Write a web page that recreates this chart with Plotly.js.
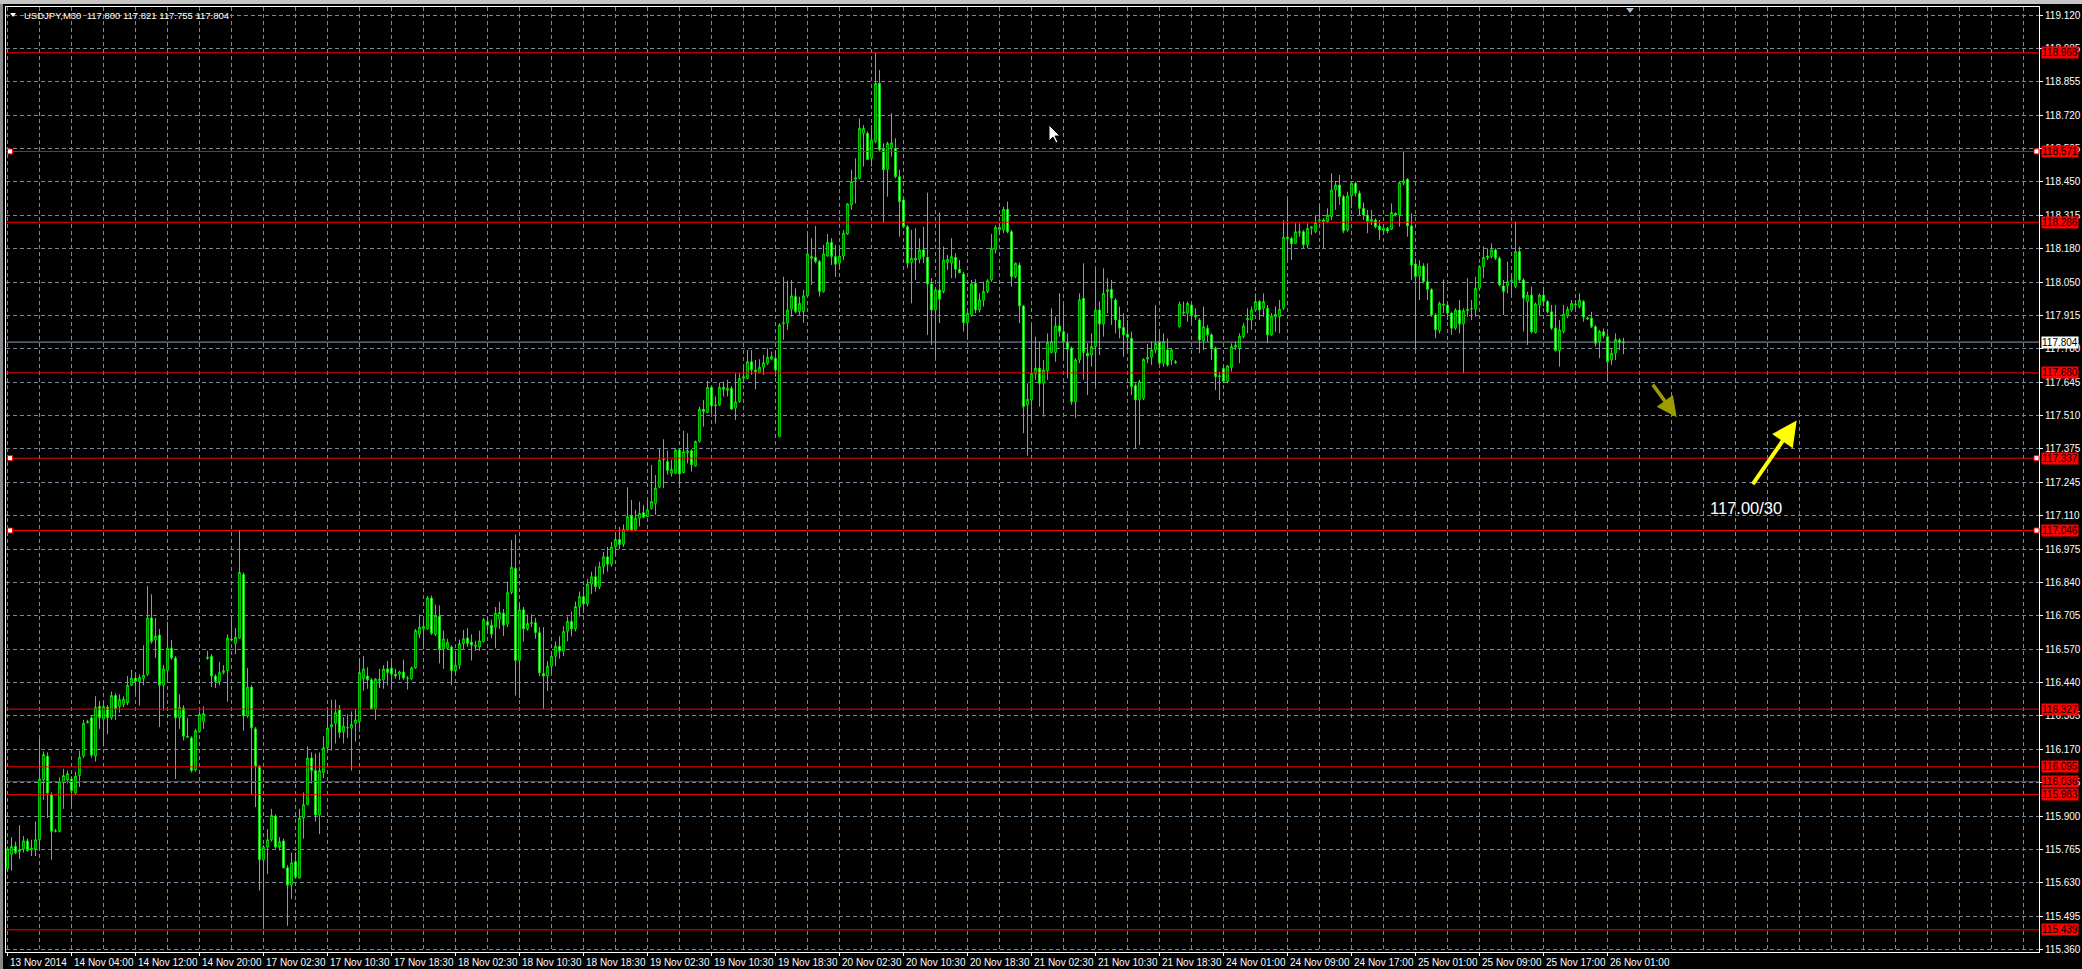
<!DOCTYPE html>
<html>
<head>
<meta charset="utf-8">
<script src="https://cdn.plot.ly/plotly-3.0.1.min.js"></script>
<style>
html,body{margin:0;padding:0;background:#000;overflow:hidden;}
#chart{width:2082px;height:969px;}
</style>
</head>
<body>
<div id="chart"></div>
<script>
// ---------------- DATA ----------------
const symbolName = 'USDJPY,M30';

const xTickLabels = ['13 Nov 2014','14 Nov 04:00','14 Nov 12:00','14 Nov 20:00','17 Nov 02:30','17 Nov 10:30','17 Nov 18:30','18 Nov 02:30','18 Nov 10:30','18 Nov 18:30','19 Nov 02:30','19 Nov 10:30','19 Nov 18:30','20 Nov 02:30','20 Nov 10:30','20 Nov 18:30','21 Nov 02:30','21 Nov 10:30','21 Nov 18:30','24 Nov 01:00','24 Nov 09:00','24 Nov 17:00','25 Nov 01:00','25 Nov 09:00','25 Nov 17:00','26 Nov 01:00'];

const yTickLabels = ['119.120','118.985','118.855','118.720','118.585','118.450','118.315','118.180','118.050','117.915','117.780','117.645','117.510','117.375','117.245','117.110','116.975','116.840','116.705','116.570','116.440','116.305','116.170','116.035','115.900','115.765','115.630','115.495','115.360'];

const opens = [
115.685,115.743,115.775,115.753,115.765,115.797,115.761,115.765,115.802,116.043,
116.138,115.984,115.835,115.835,116.036,116.043,116.046,115.989,116.060,116.138,
116.272,116.292,116.138,116.338,116.287,116.335,116.292,116.382,116.338,116.346,
116.353,116.423,116.452,116.438,116.450,116.467,116.694,116.606,116.625,116.423,
116.482,116.572,116.533,116.292,116.332,116.214,116.211,116.082,116.236,116.277,
116.531,116.540,116.460,116.438,116.474,116.482,116.609,116.591,116.613,116.869,
116.299,116.416,116.248,116.098,115.721,115.772,115.802,115.897,115.772,115.797,
115.689,115.619,115.714,115.648,115.889,115.943,116.131,116.080,115.901,116.072,
116.172,116.255,116.270,116.324,116.236,116.251,116.251,116.270,116.277,116.450,
116.460,116.445,116.328,116.441,116.445,116.489,116.492,116.467,116.467,116.477,
116.450,116.450,116.493,116.628,116.650,116.650,116.774,116.628,116.701,116.569,
116.572,116.577,116.482,116.504,116.591,116.613,116.596,116.580,116.577,116.599,
116.679,116.665,116.657,116.689,116.713,116.669,116.796,116.894,116.523,116.727,
116.650,116.672,116.675,116.635,116.470,116.460,116.500,116.540,116.580,116.560,
116.640,116.680,116.650,116.740,116.780,116.750,116.830,116.860,116.820,116.900,
116.940,116.910,116.980,117.010,116.990,117.048,117.105,117.048,117.095,117.118,
117.102,117.135,117.155,117.220,117.330,117.323,117.276,117.276,117.370,117.279,
117.359,117.367,117.306,117.404,117.534,117.520,117.622,117.547,117.551,117.622,
117.609,117.618,117.538,117.564,117.658,117.658,117.725,117.692,117.681,117.703,
117.719,117.735,117.739,117.424,117.877,117.880,117.936,117.987,117.927,117.927,
117.990,118.148,118.145,118.128,118.007,118.150,118.205,118.148,118.121,118.150,
118.239,118.356,118.459,118.463,118.644,118.644,118.543,118.610,118.845,118.580,
118.499,118.584,118.584,118.470,118.376,118.268,118.124,118.141,118.137,118.175,
118.145,118.038,117.933,118.014,118.007,118.124,118.121,118.145,118.097,118.078,
117.882,117.913,118.040,117.933,117.971,118.007,118.054,118.175,118.255,118.255,
118.338,118.248,118.067,118.114,117.949,117.551,117.571,117.676,117.699,117.638,
117.689,117.762,117.762,117.869,117.846,117.802,117.779,117.564,117.732,117.980,
117.759,117.752,117.786,117.933,117.877,118.007,118.016,117.973,117.893,117.863,
117.835,117.819,117.629,117.571,117.578,117.735,117.743,117.772,117.806,117.719,
117.772,117.732,117.725,117.866,117.920,117.920,117.953,117.913,117.893,117.810,
117.860,117.833,117.779,117.665,117.698,117.645,117.702,117.783,117.779,117.826,
117.893,117.893,117.933,117.967,117.940,117.940,117.833,117.906,117.906,117.940,
118.226,118.221,118.201,118.244,118.248,118.195,118.262,118.248,118.291,118.295,
118.289,118.309,118.416,118.436,118.389,118.255,118.392,118.443,118.403,118.342,
118.315,118.289,118.295,118.271,118.252,118.262,118.258,118.322,118.315,118.443,
118.459,118.271,118.118,118.070,118.110,118.047,118.016,117.913,117.850,117.957,
117.953,117.920,117.860,117.933,117.877,117.930,117.936,117.936,118.020,118.107,
118.144,118.148,118.175,118.141,118.030,118.030,118.047,118.027,118.168,118.054,
117.967,117.993,117.842,117.953,117.993,117.967,117.926,117.860,117.770,117.846,
117.909,117.933,117.953,117.947,117.967,117.902,117.900,117.866,117.806,117.846,
117.826,117.732,117.759,117.812,117.800];

const highs = [
115.775,115.812,115.794,115.860,115.816,115.806,115.802,115.875,116.211,116.157,
116.153,115.992,115.845,116.053,116.087,116.080,116.058,116.075,116.160,116.284,
116.284,116.299,116.379,116.360,116.357,116.343,116.398,116.391,116.387,116.379,
116.460,116.486,116.470,116.467,116.584,116.822,116.789,116.694,116.650,116.504,
116.679,116.606,116.540,116.387,116.343,116.292,116.218,116.248,116.318,116.338,
116.562,116.548,116.467,116.518,116.504,116.628,116.694,116.653,117.049,116.877,
116.493,116.423,116.255,116.101,115.780,115.845,115.926,115.904,115.812,115.806,
115.699,115.750,115.750,115.926,115.992,116.177,116.153,116.148,116.153,116.218,
116.335,116.365,116.365,116.343,116.295,116.306,116.318,116.328,116.533,116.540,
116.496,116.452,116.452,116.489,116.504,116.521,116.518,116.489,116.482,116.526,
116.460,116.499,116.650,116.708,116.687,116.782,116.784,116.748,116.745,116.643,
116.610,116.584,116.562,116.606,116.646,116.653,116.628,116.602,116.643,116.694,
116.701,116.687,116.738,116.760,116.730,116.840,117.008,117.030,116.752,116.738,
116.708,116.708,116.694,116.657,116.657,116.520,116.560,116.600,116.620,116.660,
116.700,116.720,116.760,116.800,116.820,116.850,116.880,116.900,116.920,116.960,
116.980,117.000,117.040,117.060,117.070,117.220,117.169,117.129,117.162,117.149,
117.169,117.310,117.269,117.377,117.413,117.367,117.330,117.377,117.377,117.447,
117.437,117.373,117.408,117.544,117.571,117.649,117.627,117.585,117.641,117.645,
117.652,117.627,117.678,117.678,117.708,117.772,117.772,117.732,117.735,117.752,
117.779,117.766,117.770,117.880,118.067,118.051,118.054,118.020,117.987,118.014,
118.242,118.222,118.271,118.134,118.195,118.239,118.222,118.195,118.188,118.255,
118.362,118.497,118.543,118.704,118.677,118.651,118.677,118.970,118.899,118.604,
118.610,118.725,118.624,118.497,118.383,118.275,118.255,118.262,118.222,118.268,
118.405,118.061,118.020,118.325,118.188,118.155,118.222,118.161,118.134,118.087,
117.926,118.054,118.057,118.000,118.047,118.057,118.239,118.275,118.282,118.349,
118.369,118.255,118.124,118.124,117.953,117.638,117.873,117.826,117.806,117.732,
117.839,117.940,117.907,118.000,117.953,117.839,117.786,117.739,118.000,118.121,
117.799,117.839,118.101,117.967,118.101,118.061,118.054,117.980,117.947,117.920,
117.893,117.846,117.638,117.652,117.739,117.796,117.806,117.953,117.853,117.839,
117.819,117.779,117.732,117.967,117.967,117.967,117.960,117.940,117.900,117.947,
117.873,117.839,117.786,117.685,117.708,117.712,117.799,117.806,117.839,117.880,
117.940,117.947,118.000,117.973,118.000,117.953,117.920,117.947,117.973,118.295,
118.382,118.228,118.282,118.282,118.255,118.282,118.271,118.315,118.356,118.302,
118.342,118.483,118.453,118.476,118.396,118.409,118.449,118.449,118.413,118.365,
118.336,118.336,118.302,118.295,118.271,118.268,118.362,118.325,118.449,118.570,
118.463,118.322,118.141,118.134,118.121,118.121,118.020,117.920,117.967,118.056,
117.960,117.926,117.940,117.973,117.940,118.061,117.973,118.067,118.114,118.188,
118.181,118.201,118.181,118.148,118.054,118.128,118.074,118.289,118.188,118.061,
118.007,118.027,117.963,118.000,118.027,117.973,117.953,117.953,117.893,117.953,
117.947,117.973,117.973,118.000,117.973,117.906,117.926,117.873,117.853,117.859,
117.839,117.779,117.839,117.819,117.821];

const lows = [
115.677,115.677,115.743,115.724,115.750,115.753,115.736,115.736,115.765,115.962,
115.889,115.721,115.831,115.831,115.926,116.028,115.933,115.984,116.014,116.131,
116.270,116.131,116.116,116.248,116.177,116.226,116.284,116.284,116.313,116.335,
116.343,116.420,116.391,116.341,116.423,116.460,116.591,116.533,116.255,116.321,
116.438,116.526,116.046,116.248,116.201,116.211,116.072,116.075,116.233,116.248,
116.526,116.416,116.412,116.423,116.467,116.357,116.599,116.548,116.610,116.240,
116.292,115.984,115.933,115.597,115.443,115.663,115.794,115.765,115.758,115.685,
115.455,115.563,115.645,115.645,115.806,115.941,116.028,115.875,115.824,116.050,
116.160,116.160,116.189,116.211,116.189,116.211,116.080,116.196,116.251,116.401,
116.409,116.328,116.284,116.412,116.409,116.423,116.416,116.450,116.445,116.445,
116.406,116.445,116.489,116.613,116.569,116.646,116.625,116.621,116.511,116.489,
116.569,116.423,116.474,116.489,116.569,116.577,116.523,116.562,116.562,116.596,
116.643,116.613,116.572,116.650,116.621,116.657,116.789,116.382,116.372,116.599,
116.643,116.657,116.610,116.460,116.328,116.400,116.470,116.500,116.530,116.540,
116.600,116.620,116.640,116.700,116.720,116.740,116.790,116.800,116.810,116.870,
116.880,116.900,116.950,116.970,116.980,117.042,117.042,117.042,117.062,117.095,
117.099,117.129,117.109,117.216,117.216,117.270,117.263,117.273,117.216,117.276,
117.316,117.283,117.303,117.400,117.464,117.518,117.518,117.477,117.547,117.585,
117.585,117.531,117.491,117.560,117.638,117.654,117.672,117.614,117.678,117.672,
117.712,117.732,117.665,117.421,117.813,117.853,117.906,117.920,117.913,117.882,
117.987,118.034,118.121,117.987,118.003,118.148,118.114,118.067,118.108,118.134,
118.235,118.336,118.362,118.459,118.510,118.537,118.510,118.604,118.570,118.285,
118.389,118.550,118.463,118.228,118.262,118.101,117.960,118.054,118.121,118.121,
117.833,117.792,117.739,117.880,118.000,118.094,118.061,118.061,118.081,117.846,
117.819,117.906,117.920,117.923,117.947,118.000,118.047,118.161,118.235,118.242,
118.242,118.027,118.061,117.880,117.437,117.346,117.491,117.652,117.544,117.504,
117.652,117.759,117.725,117.826,117.732,117.658,117.551,117.498,117.719,117.652,
117.591,117.705,117.631,117.752,117.826,117.920,117.873,117.839,117.819,117.745,
117.772,117.591,117.377,117.390,117.571,117.719,117.712,117.759,117.712,117.705,
117.705,117.712,117.716,117.863,117.913,117.886,117.880,117.893,117.759,117.772,
117.806,117.732,117.611,117.571,117.638,117.638,117.685,117.772,117.719,117.819,
117.839,117.853,117.926,117.893,117.906,117.799,117.830,117.846,117.839,117.933,
118.134,118.134,118.199,118.228,118.181,118.181,118.235,118.242,118.282,118.181,
118.282,118.295,118.336,118.356,118.242,118.248,118.342,118.389,118.315,118.295,
118.242,118.275,118.262,118.215,118.235,118.242,118.255,118.309,118.268,118.436,
118.228,118.054,117.772,117.973,118.040,117.973,117.906,117.819,117.839,117.920,
117.893,117.833,117.853,117.839,117.678,117.906,117.893,117.906,118.014,118.061,
118.134,118.141,118.134,118.030,117.913,118.000,117.987,118.020,118.047,117.846,
117.792,117.839,117.839,117.913,117.947,117.920,117.853,117.766,117.705,117.839,
117.900,117.926,117.933,117.940,117.886,117.893,117.860,117.786,117.739,117.819,
117.645,117.712,117.732,117.772,117.755];

const closes = [
115.765,115.775,115.750,115.762,115.797,115.758,115.768,115.802,116.046,116.145,
115.989,115.835,115.838,116.036,116.060,116.068,115.999,116.058,116.134,116.270,
116.277,116.142,116.335,116.292,116.338,116.292,116.382,116.328,116.365,116.368,
116.423,116.452,116.438,116.455,116.464,116.694,116.599,116.621,116.423,116.489,
116.572,116.533,116.292,116.335,116.218,116.218,116.080,116.240,116.306,116.309,
116.536,116.460,116.438,116.474,116.482,116.613,116.605,116.616,116.877,116.299,
116.416,116.252,116.098,115.721,115.772,115.802,115.900,115.772,115.794,115.689,
115.619,115.709,115.651,115.889,115.943,116.131,116.080,115.901,116.080,116.172,
116.251,116.265,116.313,116.233,116.259,116.253,116.265,116.284,116.474,116.489,
116.445,116.328,116.448,116.448,116.489,116.474,116.467,116.460,116.477,116.452,
116.452,116.493,116.643,116.657,116.660,116.774,116.632,116.704,116.567,116.610,
116.596,116.482,116.504,116.591,116.610,116.591,116.584,116.584,116.602,116.687,
116.665,116.628,116.713,116.716,116.665,116.796,116.898,116.523,116.727,116.650,
116.672,116.675,116.635,116.474,116.460,116.500,116.540,116.580,116.560,116.640,
116.680,116.650,116.740,116.780,116.750,116.830,116.860,116.820,116.900,116.940,
116.910,116.980,117.010,116.990,117.050,117.102,117.048,117.095,117.115,117.099,
117.129,117.162,117.216,117.330,117.333,117.287,117.292,117.370,117.273,117.363,
117.367,117.310,117.404,117.534,117.524,117.622,117.547,117.551,117.622,117.614,
117.618,117.534,117.564,117.658,117.665,117.725,117.692,117.685,117.703,117.721,
117.743,117.746,117.692,117.873,117.882,117.933,117.990,117.927,117.960,117.990,
118.159,118.141,118.128,118.007,118.159,118.205,118.148,118.117,118.150,118.242,
118.360,118.450,118.466,118.664,118.664,118.539,118.617,118.845,118.577,118.497,
118.604,118.606,118.470,118.369,118.268,118.121,118.141,118.134,118.175,118.148,
118.038,117.933,118.014,117.976,118.134,118.137,118.148,118.097,118.083,117.882,
117.920,118.038,117.933,117.974,118.007,118.051,118.181,118.266,118.266,118.338,
118.248,118.067,118.121,117.949,117.544,117.574,117.678,117.699,117.638,117.692,
117.802,117.806,117.869,117.846,117.806,117.775,117.564,117.732,117.974,117.762,
117.748,117.786,117.933,117.877,118.000,118.014,117.980,117.893,117.860,117.833,
117.823,117.625,117.571,117.645,117.735,117.743,117.772,117.799,117.719,117.806,
117.712,117.772,117.721,117.957,117.924,117.960,117.913,117.906,117.812,117.866,
117.833,117.779,117.665,117.668,117.645,117.708,117.786,117.792,117.828,117.869,
117.900,117.933,117.967,117.933,117.967,117.833,117.909,117.916,117.936,118.226,
118.220,118.199,118.248,118.248,118.195,118.262,118.268,118.285,118.295,118.289,
118.315,118.416,118.436,118.389,118.252,118.392,118.443,118.403,118.342,118.315,
118.289,118.298,118.268,118.255,118.262,118.251,118.325,118.315,118.445,118.453,
118.271,118.114,118.067,118.110,118.047,118.016,117.913,117.853,117.960,117.953,
117.920,117.860,117.933,117.877,117.930,117.936,117.938,118.020,118.107,118.145,
118.150,118.175,118.141,118.034,118.007,118.047,118.051,118.168,118.054,117.980,
117.993,117.846,117.957,117.993,117.967,117.926,117.860,117.770,117.853,117.917,
117.936,117.960,117.957,117.973,117.904,117.898,117.866,117.799,117.846,117.829,
117.725,117.759,117.815,117.802,117.804];

// horizontal red level lines and their labels
const levels = [118.968, 118.571, 118.286, 117.680, 117.337, 117.046, 116.327, 116.095, 116.036, 115.983, 115.439];
const selectedLevels = [118.571, 117.337, 117.046];
const currentPrice = 117.804;
const noteText = '117.00/30';

// ---------------- CHART ----------------
const W = 2082, H = 969;
const M = {l: 6, r: 43, t: 7, b: 17};
const plotW = W - M.l - M.r, plotH = H - M.t - M.b;
const pxX = px => (px - M.l) / plotW;
const pxY = py => 1 - (py - M.t) / plotH;
const BAR_PX = 4;
const x0 = -0.375;

const idx = opens.map((_, i) => i);
const yTop = parseFloat(yTickLabels[0]);
const yBot = parseFloat(yTickLabels[yTickLabels.length - 1]);
const yStep = (yTop - yBot) / (yTickLabels.length - 1);
const yTickVals = yTickLabels.map((_, k) => yTop - k * yStep);
const pricePerPx = yStep / 33.39;
const yRange = [yBot - 2.5 * pricePerPx, yTop + 8 * pricePerPx];
const xTickVals = xTickLabels.map((_, k) => k * 16);

const GRID = '#778899';
const FONT = 'Liberation Sans, Arial, sans-serif';

const trace = {
  type: 'candlestick',
  x: idx, open: opens, high: highs, low: lows, close: closes,
  increasing: {line: {color: '#00ff00', width: 1}, fillcolor: '#000000'},
  decreasing: {line: {color: '#00ff00', width: 1}, fillcolor: '#ffffff'},
  whiskerwidth: 0,
  hoverinfo: 'skip',
  showlegend: false
};

const shapes = [];
// window chrome top and left strip
shapes.push({type: 'rect', xref: 'paper', yref: 'paper', x0: pxX(0), x1: pxX(W), y0: pxY(4), y1: pxY(0), fillcolor: '#c4c4c4', line: {width: 0}});
shapes.push({type: 'rect', xref: 'paper', yref: 'paper', x0: pxX(0), x1: pxX(3), y0: pxY(H), y1: pxY(4), fillcolor: '#8a8a8a', line: {width: 0}});
// red levels
levels.forEach(lv => {
  shapes.push({type: 'line', xref: 'paper', x0: 0, x1: 1, yref: 'y', y0: lv, y1: lv, line: {color: '#ff0000', width: 1}});
});
// current price line
shapes.push({type: 'line', xref: 'paper', x0: 0, x1: 1, yref: 'y', y0: currentPrice, y1: currentPrice, line: {color: '#8c9bb0', width: 1}});
// selection handles
selectedLevels.forEach(lv => {
  [[0, 1.5, 6.5], [1, -5, 0]].forEach(([anc, a, b]) => {
    shapes.push({type: 'rect', xref: 'paper', xsizemode: 'pixel', xanchor: anc, x0: a, x1: b,
      yref: 'y', ysizemode: 'pixel', yanchor: lv, y0: -2.5, y1: 2.5,
      fillcolor: '#ffffff', line: {color: '#ff0000', width: 1}});
  });
});
// header small triangle
shapes.push({type: 'path', xref: 'paper', xsizemode: 'pixel', xanchor: pxX(13), yref: 'paper', ysizemode: 'pixel', yanchor: pxY(15),
  path: 'M-3,2 L3,2 L0,-2 Z', fillcolor: '#ffffff', line: {width: 0}});
// chart shift marker
shapes.push({type: 'path', xref: 'paper', xsizemode: 'pixel', xanchor: pxX(1630), yref: 'paper', ysizemode: 'pixel', yanchor: 1,
  path: 'M-4,-1 L4,-1 L0,-6 Z', fillcolor: '#a9bcd6', line: {width: 0}});
// mouse cursor
shapes.push({type: 'path', xref: 'paper', xsizemode: 'pixel', xanchor: pxX(1049), yref: 'paper', ysizemode: 'pixel', yanchor: pxY(125),
  path: 'M0,0 L0,-16 L4,-12 L7,-18 L9,-17 L6,-11 L11,-11 Z', fillcolor: '#ffffff', line: {color: '#000000', width: 1}});

const annotations = [];
// time labels (left-aligned after each tick, like the terminal)
xTickLabels.forEach((t, k) => {
  annotations.push({xref: 'x', x: xTickVals[k], xanchor: 'left', xshift: 0, yref: 'paper', y: pxY(962), yanchor: 'middle',
    text: t, showarrow: false, font: {family: FONT, size: 10, color: '#ffffff'}});
});
levels.forEach(lv => {
  annotations.push({xref: 'paper', x: 1, xanchor: 'left', xshift: 2, yref: 'y', y: lv, yanchor: 'middle',
    text: lv.toFixed(3), showarrow: false, bgcolor: '#ff0000', borderpad: 0,
    font: {family: FONT, size: 10, color: '#000000'}});
});
annotations.push({xref: 'paper', x: 1, xanchor: 'left', xshift: 2, yref: 'y', y: currentPrice, yanchor: 'middle',
  text: currentPrice.toFixed(3), showarrow: false, bgcolor: '#ffffff', borderpad: 0,
  font: {family: FONT, size: 10, color: '#000000'}});
const last = opens.length - 1;
annotations.push({xref: 'paper', x: pxX(22), xanchor: 'left', yref: 'paper', y: pxY(15), yanchor: 'middle',
  text: symbolName + '\u00a0\u00a0' + [opens[last], highs[last], lows[last], closes[last]].map(v => v.toFixed(3)).join(' '),
  showarrow: false, font: {family: FONT, size: 9.5, color: '#ffffff'}});
// arrows
annotations.push({x: 447.3, y: 117.488, xref: 'x', yref: 'y', ax: -45, ay: 65, text: '', showarrow: true,
  arrowhead: 2, arrowsize: 1.25, arrowwidth: 4, arrowcolor: '#ffff00', standoff: 0});
annotations.push({x: 417.3, y: 117.502, xref: 'x', yref: 'y', ax: -25, ay: -34, text: '', showarrow: true,
  arrowhead: 2, arrowsize: 1.15, arrowwidth: 3.5, arrowcolor: '#9c9c00', standoff: 0});
annotations.push({x: 434.6, y: 117.137, xref: 'x', yref: 'y', text: noteText, showarrow: false,
  xanchor: 'center', yanchor: 'middle', font: {family: FONT, size: 16.5, color: '#ffffff'}});

const layout = {
  width: W, height: H, autosize: false,
  margin: M,
  paper_bgcolor: '#000000', plot_bgcolor: '#000000',
  showlegend: false, hovermode: false, dragmode: false,
  boxgap: 0.45,
  xaxis: {
    type: 'linear', range: [x0, x0 + plotW / BAR_PX], autorange: false, fixedrange: true,
    rangeslider: {visible: false},
    tickmode: 'array', tickvals: xTickVals, showticklabels: false,
    ticks: 'outside', ticklen: 3, tickcolor: '#ffffff', tickwidth: 1,
    showgrid: true, gridcolor: GRID, gridwidth: 1, griddash: '4px,3px',
    minor: {tickmode: 'linear', tick0: 0, dtick: 8, showgrid: true, gridcolor: GRID, gridwidth: 1, griddash: '4px,3px', ticks: ''},
    showline: true, mirror: true, linecolor: '#ffffff', linewidth: 1, zeroline: false
  },
  yaxis: {
    side: 'right', range: yRange, autorange: false, fixedrange: true,
    tickmode: 'array', tickvals: yTickVals, ticktext: yTickLabels,
    ticks: 'outside', ticklen: 3, tickcolor: '#ffffff', tickwidth: 1,
    tickfont: {family: FONT, size: 10, color: '#ffffff'},
    showgrid: true, gridcolor: GRID, gridwidth: 1, griddash: '4px,3px',
    showline: true, mirror: true, linecolor: '#ffffff', linewidth: 1, zeroline: false
  },
  shapes: shapes,
  annotations: annotations
};

Plotly.newPlot('chart', [trace], layout, {displayModeBar: false, staticPlot: true});
</script>
</body>
</html>
